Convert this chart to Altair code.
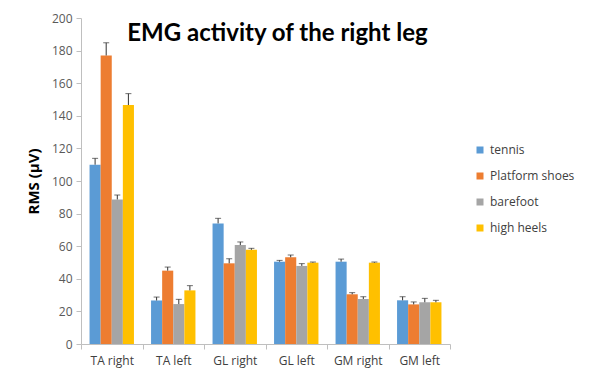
import altair as alt
import pandas as pd

muscles = ["TA right", "TA left", "GL right", "GL left", "GM right", "GM left"]
conditions = ["tennis", "Platform shoes", "barefoot", "high heels"]
colors = ["#5B9BD5", "#ED7D31", "#A5A5A5", "#FFC000"]
y_ticks = [0, 20, 40, 60, 80, 100, 120, 140, 160, 180, 200]

tennis = [110.0, 26.7, 74.0, 50.5, 50.5, 26.8]
tennis_err = [3.9, 2.1, 3.1, 0.8, 1.6, 2.2]
platform = [177.0, 45.0, 49.5, 53.2, 30.5, 24.3]
platform_err = [7.8, 2.2, 2.8, 1.4, 1.0, 1.5]
barefoot = [88.7, 24.5, 60.7, 47.9, 27.6, 25.6]
barefoot_err = [2.7, 2.9, 1.9, 1.4, 1.4, 2.4]
heels = [146.6, 32.9, 57.8, 49.9, 49.9, 25.6]
heels_err = [7.0, 2.9, 0.9, 0.4, 0.4, 1.2]

series = [(tennis, tennis_err), (platform, platform_err), (barefoot, barefoot_err), (heels, heels_err)]
rows = []
for cond, (vals, errs) in zip(conditions, series):
    for m, v, e in zip(muscles, vals, errs):
        rows.append({"muscle": m, "condition": cond, "value": v, "top": v + e})
df = pd.DataFrame(rows)

FONT = "Open Sans"

base = alt.Chart(df).encode(
    x=alt.X(
        "muscle:N",
        sort=muscles,
        title=None,
        scale=alt.Scale(paddingInner=0, paddingOuter=0),
        axis=alt.Axis(
            labelAngle=0,
            tickBand="extent",
            domainColor="#BFBFBF",
            tickColor="#BFBFBF",
            tickSize=5,
            labelColor="#404040",
            labelFont=FONT,
            labelFontSize=12,
            labelPadding=6,
        ),
    ),
    xOffset=alt.XOffset(
        "condition:N",
        sort=conditions,
        scale=alt.Scale(paddingInner=0, paddingOuter=0.77),
    ),
)

yscale = alt.Scale(domain=[0, 200], nice=False)
yaxis = alt.Axis(
    values=y_ticks,
    labelOverlap=False,
    grid=False,
    domainColor="#BFBFBF",
    tickColor="#BFBFBF",
    tickSize=5,
    labelColor="#595959",
    labelFont=FONT,
    labelFontSize=12,
    labelPadding=4,
    titleFont=FONT,
    titleFontSize=15,
    titleFontWeight="bold",
    titleColor="#000000",
    titlePadding=10,
)

bars = base.mark_bar().encode(
    y=alt.Y("value:Q", scale=yscale, title="RMS (µV)", axis=yaxis),
    color=alt.Color(
        "condition:N",
        sort=conditions,
        scale=alt.Scale(domain=conditions, range=colors),
        legend=alt.Legend(
            title=None,
            orient="none",
            legendX=393,
            legendY=126,
            symbolType="square",
            symbolSize=49,
            symbolStrokeWidth=0,
            labelFont=FONT,
            labelFontSize=12,
            labelColor="#404040",
            labelOffset=4,
            rowPadding=14,
            padding=0,
        ),
    ),
)

err = base.mark_rule(color="#333333", strokeWidth=1).encode(
    y=alt.Y("value:Q", scale=yscale, title="RMS (µV)", axis=yaxis), y2="top:Q"
)
caps = base.mark_tick(color="#333333", size=6, thickness=1, orient="horizontal").encode(
    y=alt.Y("top:Q", scale=yscale, title="RMS (µV)", axis=yaxis)
)

chart = (
    alt.layer(bars, err, caps)
    .properties(
        width=369,
        height=326,
        autosize=alt.AutoSizeParams(type="none"),
        padding={"left": 73, "top": 10, "right": 133, "bottom": 32},
        title=alt.TitleParams(
            "EMG activity of the right leg",
            font="Lato",
            fontSize=24,
            fontWeight="bold",
            color="#000000",
            anchor="middle",
            dx=12,
            dy=38,
        ),
    )
    .configure_view(stroke=None)
)

chart.save("out.html", embed_options={"renderer": "svg", "actions": False})
